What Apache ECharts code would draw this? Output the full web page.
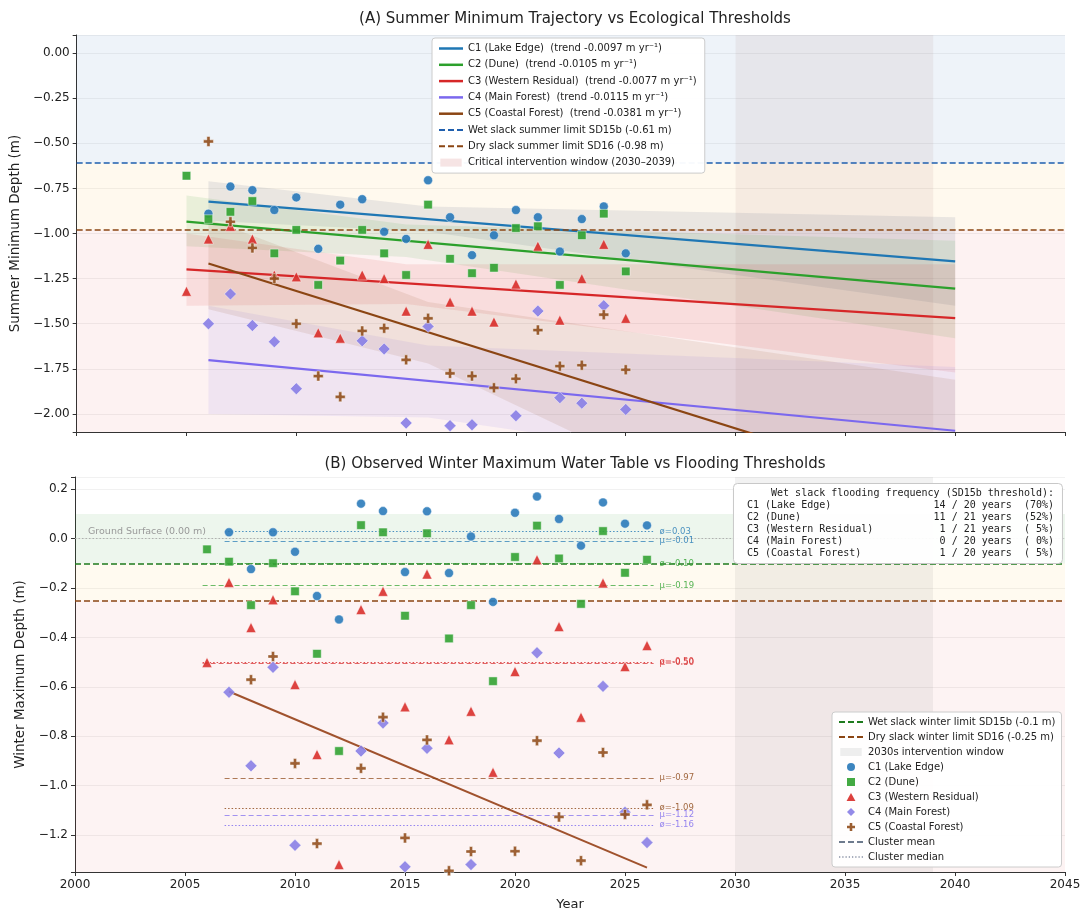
<!DOCTYPE html>
<html>
<head>
<meta charset="utf-8">
<script src="https://cdn.jsdelivr.net/npm/echarts@6/dist/echarts.min.js"></script>
<style>
html, body { margin: 0; padding: 0; background: #fff; }
#chart { width: 1085px; height: 914px; }
</style>
</head>
<body>
<div id="chart"></div>
<script>
"use strict";

// ---- cluster labels ----
var clusterNames = ['C1 (Lake Edge)', 'C2 (Dune)', 'C3 (Western Residual)', 'C4 (Main Forest)', 'C5 (Coastal Forest)'];
var trendSlopes = ['-0.0097', '-0.0105', '-0.0077', '-0.0115', '-0.0381'];

// ---- panel A: summer minimum depth (m) ----
var summerYearsC1 = [2006, 2007, 2008, 2009, 2010, 2011, 2012, 2013, 2014, 2015, 2016, 2017, 2018, 2019, 2020, 2021, 2022, 2023, 2024, 2025];
var summerC1 = [-0.89, -0.74, -0.76, -0.87, -0.80, -1.085, -0.84, -0.81, -0.99, -1.03, -0.705, -0.91, -1.12, -1.01, -0.87, -0.91, -1.10, -0.92, -0.85, -1.11];
var summerYearsC2 = [2005, 2006, 2007, 2008, 2009, 2010, 2011, 2012, 2013, 2014, 2015, 2016, 2017, 2018, 2019, 2020, 2021, 2022, 2023, 2024, 2025];
var summerC2 = [-0.68, -0.92, -0.88, -0.82, -1.11, -0.98, -1.285, -1.15, -0.98, -1.11, -1.23, -0.84, -1.14, -1.22, -1.19, -0.97, -0.96, -1.285, -1.01, -0.89, -1.21];
var summerYearsC3 = [2005, 2006, 2007, 2008, 2009, 2010, 2011, 2012, 2013, 2014, 2015, 2016, 2017, 2018, 2019, 2020, 2021, 2022, 2023, 2024, 2025];
var summerC3 = [-1.32, -1.03, -0.96, -1.03, -1.23, -1.24, -1.55, -1.58, -1.23, -1.25, -1.43, -1.06, -1.38, -1.43, -1.49, -1.28, -1.07, -1.48, -1.25, -1.06, -1.47];
var summerYearsC4 = [2006, 2007, 2008, 2009, 2010, 2013, 2014, 2015, 2016, 2017, 2018, 2020, 2021, 2022, 2023, 2024, 2025];
var summerC4 = [-1.50, -1.335, -1.51, -1.60, -1.86, -1.595, -1.64, -2.05, -1.515, -2.065, -2.06, -2.01, -1.43, -1.91, -1.94, -1.40, -1.975];
var summerYearsC5 = [2006, 2007, 2008, 2009, 2010, 2011, 2012, 2013, 2014, 2015, 2016, 2017, 2018, 2019, 2020, 2021, 2022, 2023, 2024, 2025];
var summerC5 = [-0.49, -0.935, -1.08, -1.25, -1.50, -1.79, -1.905, -1.54, -1.525, -1.70, -1.47, -1.775, -1.79, -1.855, -1.805, -1.535, -1.735, -1.73, -1.45, -1.755];

// fitted trends (start year/value -> 2040)
var trendStartYear = [2006, 2005, 2005, 2006, 2006];
var trendStartValue = [-0.823, -0.934, -1.199, -1.702, -1.166];
var trendEndYear = 2040;
var trendEndValue = [-1.155, -1.305, -1.469, -2.093, -2.461];

// confidence bands: [start, middle, 2040]
var bandYears = [[2006, 2016, 2040], [2005, 2015, 2040], [2005, 2015, 2040], [2006, 2016, 2040], [2006, 2016, 2040]];
var bandUpper = [[-0.71, -0.85, -0.91], [-0.79, -0.95, -1.04], [-1.00, -1.17, -1.17], [-1.40, -1.62, -1.74], [-0.92, -1.38, -1.81]];
var bandLower = [[-0.93, -0.99, -1.40], [-1.07, -1.13, -1.58], [-1.40, -1.39, -1.77], [-2.00, -2.02, -2.44], [-1.42, -1.72, -3.11]];

var summerWetLimit = -0.61;
var summerDryLimit = -0.98;
var windowYears = [2030, 2039];

// ---- panel B: winter maximum depth (m) ----
var winterYearsC1 = [2007, 2008, 2009, 2010, 2011, 2012, 2013, 2014, 2015, 2016, 2017, 2018, 2019, 2020, 2021, 2022, 2023, 2024, 2025, 2026];
var winterC1 = [0.026, -0.123, 0.026, -0.053, -0.232, -0.327, 0.142, 0.112, -0.135, 0.111, -0.139, 0.009, -0.256, 0.105, 0.171, 0.080, -0.028, 0.147, 0.061, 0.054];
var winterYearsC2 = [2006, 2007, 2008, 2009, 2010, 2011, 2012, 2013, 2014, 2015, 2016, 2017, 2018, 2019, 2020, 2021, 2022, 2023, 2024, 2025, 2026];
var winterC2 = [-0.043, -0.093, -0.269, -0.099, -0.213, -0.466, -0.860, 0.055, 0.026, -0.312, 0.022, -0.404, -0.269, -0.577, -0.074, 0.053, -0.080, -0.264, 0.031, -0.138, -0.085];
var winterYearsC3 = [2006, 2007, 2008, 2009, 2010, 2011, 2012, 2013, 2014, 2015, 2016, 2017, 2018, 2019, 2020, 2021, 2022, 2023, 2024, 2025, 2026];
var winterC3 = [-0.501, -0.177, -0.360, -0.247, -0.591, -0.874, -1.32, -0.287, -0.213, -0.681, -0.143, -0.814, -0.699, -0.946, -0.538, -0.085, -0.356, -0.723, -0.179, -0.518, -0.433];
var winterYearsC4 = [2007, 2008, 2009, 2010, 2013, 2014, 2015, 2016, 2018, 2021, 2022, 2024, 2025, 2026];
var winterC4 = [-0.622, -0.920, -0.521, -1.242, -0.860, -0.746, -1.329, -0.849, -1.320, -0.462, -0.868, -0.598, -1.108, -1.231];
var winterYearsC5 = [2008, 2009, 2010, 2011, 2013, 2014, 2015, 2016, 2017, 2018, 2020, 2021, 2022, 2023, 2024, 2025, 2026];
var winterC5 = [-0.571, -0.477, -0.910, -1.235, -0.930, -0.723, -1.212, -0.815, -1.345, -1.267, -1.266, -0.818, -1.127, -1.304, -0.866, -1.117, -1.078];

var winterMean = [-0.01, -0.19, -0.504, -1.12, -0.97];
var winterMedian = [0.03, -0.10, -0.50, -1.16, -1.09];
var statLineStart = [2006.8, 2005.8, 2005.8, 2006.8, 2006.8];
var statLineEnd = 2026.3;

var winterTrendYears = [2007, 2026];
var winterTrendC5 = [-0.619, -1.332];

var winterWetLimit = -0.1;
var winterDryLimit = -0.25;

var floodYears = [14, 11, 1, 0, 1];
var recordYears = [20, 21, 21, 20, 20];

// ---- styling ----
var FONT = 'DejaVu Sans';
var colors = ['#1f77b4', '#2ca02c', '#d62728', '#7b68ee', '#8b4513'];
var markerColors = ['#2b7bba', '#33a333', '#d9302c', '#8a80e6', '#93501f'];
var bandColors = ['rgba(90,110,140,0.13)', 'rgba(44,160,44,0.10)', 'rgba(214,39,40,0.10)', 'rgba(123,104,238,0.10)', 'rgba(139,69,19,0.10)'];
var PLUS = 'path://M3.4,0h3.2v3.4h3.4v3.2h-3.4v3.4h-3.2v-3.4h-3.4v-3.2h3.4z';
var symbols = ['circle', 'rect', 'triangle', 'diamond', PLUS];
var symbolSizes = [9, 8.5, 10, 12, 10];
var legendSymbols = ['circle', 'path://M0,0h10v10h-10z', 'path://M5,0L10,9L0,9Z', 'path://M5,0L10,5L5,10L0,5Z', PLUS];

var ICON_SOLID = 'path://M0,0h24v2.5h-24z';
var ICON_DASH = 'path://M0,0h6v2h-6zM9,0h6v2h-6zM18,0h6v2h-6z';
var ICON_DOT = 'path://M0,0h1.2v1.2h-1.2zM3,0h1.2v1.2h-1.2zM6,0h1.2v1.2h-1.2zM9,0h1.2v1.2h-1.2zM12,0h1.2v1.2h-1.2zM15,0h1.2v1.2h-1.2zM18,0h1.2v1.2h-1.2zM21,0h1.2v1.2h-1.2z';
var ICON_RECT = 'path://M0,0h24v9h-24z';

function zip(xs, ys) {
  return xs.map(function (x, i) { return [x, ys[i]]; });
}

function minusFmt(digits, step) {
  return function (v) {
    var k = v / step;
    if (Math.abs(k - Math.round(k)) > 1e-6) return '';
    var s = Math.abs(v).toFixed(digits);
    return (v < -1e-9 ? '\u2212' : '') + s;
  };
}

function bandSeries(i) {
  var ys = bandYears[i], hi = bandUpper[i], lo = bandLower[i];
  return {
    type: 'custom',
    xAxisIndex: 0, yAxisIndex: 0,
    silent: true, z: 1,
    data: [[ys[0], hi[0]]],
    renderItem: function (params, api) {
      var pts = [];
      for (var a = 0; a < ys.length; a++) pts.push(api.coord([ys[a], hi[a]]));
      for (var b = ys.length - 1; b >= 0; b--) pts.push(api.coord([ys[b], lo[b]]));
      var cs = params.coordSys;
      return {
        type: 'polygon',
        shape: { points: pts },
        style: { fill: bandColors[i] },
        clipPath: { type: 'rect', shape: { x: cs.x, y: cs.y, width: cs.width, height: cs.height } }
      };
    }
  };
}

var trendNames = clusterNames.map(function (n, i) {
  return n + '  (trend ' + trendSlopes[i] + ' m yr\u207B\u00B9)';
});
var wetSummerName = 'Wet slack summer limit SD15b (' + summerWetLimit + ' m)';
var drySummerName = 'Dry slack summer limit SD16 (' + summerDryLimit + ' m)';
var windowNameA = 'Critical intervention window (' + windowYears[0] + '\u2013' + windowYears[1] + ')';
var wetWinterName = 'Wet slack winter limit SD15b (' + winterWetLimit + ' m)';
var dryWinterName = 'Dry slack winter limit SD16 (' + winterDryLimit + ' m)';
var windowNameB = '2030s intervention window';

var summerSets = [
  zip(summerYearsC1, summerC1), zip(summerYearsC2, summerC2), zip(summerYearsC3, summerC3),
  zip(summerYearsC4, summerC4), zip(summerYearsC5, summerC5)
];
var winterSets = [
  zip(winterYearsC1, winterC1), zip(winterYearsC2, winterC2), zip(winterYearsC3, winterC3),
  zip(winterYearsC4, winterC4), zip(winterYearsC5, winterC5)
];

var series = [];

// panel A background zones
series.push({
  type: 'line', xAxisIndex: 0, yAxisIndex: 0, data: [], silent: true, z: 0,
  markArea: {
    silent: true,
    data: [
      [{ yAxis: 0.1, itemStyle: { color: 'rgba(31,90,180,0.075)' } }, { yAxis: summerWetLimit }],
      [{ yAxis: summerWetLimit, itemStyle: { color: 'rgba(255,170,20,0.07)' } }, { yAxis: summerDryLimit }],
      [{ yAxis: summerDryLimit, itemStyle: { color: 'rgba(214,39,40,0.06)' } }, { yAxis: -2.1 }]
    ]
  }
});
for (var b = 0; b < 5; b++) series.push(bandSeries(b));
series.push({
  name: windowNameA, type: 'line', xAxisIndex: 0, yAxisIndex: 0, data: [], silent: true, z: 2,
  color: '#f6e2e2',
  markArea: { silent: true, itemStyle: { color: 'rgba(150,100,105,0.09)' },
    data: [[{ xAxis: windowYears[0] }, { xAxis: windowYears[1] }]] }
});
[[wetSummerName, summerWetLimit, '#1f5fae'], [drySummerName, summerDryLimit, '#8b4513']].forEach(function (t) {
  series.push({
    name: t[0], type: 'line', xAxisIndex: 0, yAxisIndex: 0, data: [], z: 3, color: t[2],
    markLine: { silent: true, symbol: ['none', 'none'], label: { show: false },
      lineStyle: { color: t[2], type: [6, 3], width: 1.5 }, data: [{ yAxis: t[1] }] }
  });
});
for (var i = 0; i < 5; i++) {
  series.push({
    name: trendNames[i], type: 'line', xAxisIndex: 0, yAxisIndex: 0, z: 4,
    color: colors[i], showSymbol: false, symbol: 'none', clip: true,
    lineStyle: { width: 2.2, color: colors[i] },
    data: [[trendStartYear[i], trendStartValue[i]], [trendEndYear, trendEndValue[i]]]
  });
}
for (var s = 0; s < 5; s++) {
  series.push({
    name: clusterNames[s], type: 'scatter', xAxisIndex: 0, yAxisIndex: 0, z: 5, clip: true,
    symbol: symbols[s], symbolSize: symbolSizes[s],
    itemStyle: { color: markerColors[s], borderColor: '#ffffff', borderWidth: 0.5, opacity: 0.92 },
    data: summerSets[s]
  });
}

// panel B background zones + ground surface
series.push({
  type: 'line', xAxisIndex: 1, yAxisIndex: 1, data: [], silent: true, z: 0,
  markArea: {
    silent: true,
    data: [
      [{ yAxis: 0.1, itemStyle: { color: 'rgba(44,150,44,0.085)' } }, { yAxis: winterWetLimit }],
      [{ yAxis: winterWetLimit, itemStyle: { color: 'rgba(255,180,40,0.07)' } }, { yAxis: winterDryLimit }],
      [{ yAxis: winterDryLimit, itemStyle: { color: 'rgba(214,39,40,0.055)' } }, { yAxis: -1.35 }]
    ]
  },
  markLine: {
    silent: true, symbol: ['none', 'none'],
    lineStyle: { color: '#aaaaaa', type: [1.5, 2], width: 0.9 },
    label: { show: true, position: 'insideStartTop', formatter: 'Ground Surface (0.00 m)',
      color: '#999999', fontSize: 9.5, fontFamily: FONT, distance: [13, 2] },
    data: [{ yAxis: 0 }]
  }
});
series.push({
  name: windowNameB, type: 'line', xAxisIndex: 1, yAxisIndex: 1, data: [], silent: true, z: 1,
  color: '#eeeeee',
  markArea: { silent: true, itemStyle: { color: 'rgba(128,128,128,0.1)' },
    data: [[{ xAxis: windowYears[0] }, { xAxis: windowYears[1] }]] }
});
[[wetWinterName, winterWetLimit, '#1e7b1e'], [dryWinterName, winterDryLimit, '#8b4513']].forEach(function (t) {
  series.push({
    name: t[0], type: 'line', xAxisIndex: 1, yAxisIndex: 1, data: [], z: 3, color: t[2],
    markLine: { silent: true, symbol: ['none', 'none'], label: { show: false },
      lineStyle: { color: t[2], type: [6, 3], width: 1.5 }, data: [{ yAxis: t[1] }] }
  });
});
// cluster mean / median lines
for (var m = 0; m < 5; m++) {
  var mc = colors[m];
  series.push({
    type: 'line', xAxisIndex: 1, yAxisIndex: 1, data: [], z: 3, silent: true,
    markLine: {
      silent: true, symbol: ['none', 'none'],
      data: [
        [{ coord: [statLineStart[m], winterMean[m]],
           lineStyle: { color: mc, type: [5, 3], width: 1.2, opacity: 0.7 },
           label: { show: true, position: 'end', formatter: '\u03BC=' + winterMean[m].toFixed(2),
             color: mc, fontSize: 8.5, fontFamily: FONT, opacity: 0.8, distance: 6 } },
         { coord: [statLineEnd, winterMean[m]] }],
        [{ coord: [statLineStart[m], winterMedian[m]],
           lineStyle: { color: mc, type: [1.5, 2], width: 1.2, opacity: 0.8 },
           label: { show: true, position: 'end', formatter: '\u00F8=' + winterMedian[m].toFixed(2),
             color: mc, fontSize: 8.5, fontFamily: FONT, opacity: 0.8, distance: 6 } },
         { coord: [statLineEnd, winterMedian[m]] }]
      ]
    }
  });
}
series.push({ name: 'Cluster mean', type: 'line', xAxisIndex: 1, yAxisIndex: 1, data: [], color: '#6e7b8e' });
series.push({ name: 'Cluster median', type: 'line', xAxisIndex: 1, yAxisIndex: 1, data: [], color: '#8a93a6' });
series.push({
  type: 'line', xAxisIndex: 1, yAxisIndex: 1, z: 4, showSymbol: false, symbol: 'none', silent: true,
  lineStyle: { width: 2, color: '#a0522d' },
  data: zip(winterTrendYears, winterTrendC5)
});
for (var w = 0; w < 5; w++) {
  series.push({
    name: clusterNames[w], type: 'scatter', xAxisIndex: 1, yAxisIndex: 1, z: 5, clip: true,
    symbol: symbols[w], symbolSize: symbolSizes[w],
    itemStyle: { color: markerColors[w], borderColor: '#ffffff', borderWidth: 0.5, opacity: 0.9 },
    data: winterSets[w]
  });
}

// flooding frequency text box
var boxLines = ['    Wet slack flooding frequency (SD15b threshold):'];
for (var f = 0; f < 5; f++) {
  var pct = Math.round(100 * floodYears[f] / recordYears[f]);
  boxLines.push((clusterNames[f] + '                               ').slice(0, 31) +
    ('  ' + floodYears[f]).slice(-2) + ' / ' + recordYears[f] + ' years  (' + ('  ' + pct).slice(-2) + '%)');
}

var axisCommon = {
  axisLine: { show: true, onZero: false, lineStyle: { color: '#333333', width: 1 } },
  axisTick: { show: true, length: 4, lineStyle: { color: '#333333' } }
};

var option = {
  animation: false,
  backgroundColor: '#ffffff',
  textStyle: { fontFamily: FONT },
  title: [
    { text: '(A) Summer Minimum Trajectory vs Ecological Thresholds', left: 570, top: 7, textAlign: 'center',
      textStyle: { fontSize: 15, fontWeight: 'normal', color: '#222', fontFamily: FONT } },
    { text: '(B) Observed Winter Maximum Water Table vs Flooding Thresholds', left: 570, top: 452, textAlign: 'center',
      textStyle: { fontSize: 15, fontWeight: 'normal', color: '#222', fontFamily: FONT } },
    { text: boxLines.join('\n'), right: 22, top: 483, padding: [4, 9, 5, 14], z: 20,
      backgroundColor: 'rgba(255,255,255,0.94)', borderColor: '#c8c8c8', borderWidth: 1, borderRadius: 4,
      textStyle: { fontSize: 10, lineHeight: 12, fontWeight: 'normal', color: '#222', fontFamily: 'DejaVu Sans Mono' } }
  ],
  legend: [
    {
      orient: 'vertical', left: 432, top: 38, itemWidth: 24, itemHeight: 8, itemGap: 5.3, z: 20,
      padding: [5, 8, 5, 7], backgroundColor: 'rgba(255,255,255,0.96)', borderColor: '#cccccc',
      borderWidth: 1, borderRadius: 3, selectedMode: false,
      itemStyle: { borderWidth: 0 },
      textStyle: { fontSize: 10, lineHeight: 11, color: '#222', fontFamily: FONT },
      data: trendNames.map(function (n, i) {
        return { name: n, icon: ICON_SOLID, itemStyle: { color: colors[i] } };
      }).concat([
        { name: wetSummerName, icon: ICON_DASH, itemStyle: { color: '#1f5fae' } },
        { name: drySummerName, icon: ICON_DASH, itemStyle: { color: '#8b4513' } },
        { name: windowNameA, icon: ICON_RECT, itemStyle: { color: '#f6e4e4' } }
      ])
    },
    {
      orient: 'vertical', left: 832, top: 712, itemWidth: 24, itemHeight: 8, itemGap: 5, z: 20,
      padding: [5, 6, 5, 7], backgroundColor: 'rgba(255,255,255,0.94)', borderColor: '#cccccc',
      borderWidth: 1, borderRadius: 3, selectedMode: false,
      itemStyle: { borderWidth: 0 },
      textStyle: { fontSize: 10, lineHeight: 10, color: '#222', fontFamily: FONT },
      data: [
        { name: wetWinterName, icon: ICON_DASH, itemStyle: { color: '#1e7b1e' } },
        { name: dryWinterName, icon: ICON_DASH, itemStyle: { color: '#8b4513' } },
        { name: windowNameB, icon: ICON_RECT, itemStyle: { color: '#eeeeee' } }
      ].concat(clusterNames.map(function (n, i) {
        return { name: n, icon: legendSymbols[i], itemStyle: { color: markerColors[i] } };
      })).concat([
        { name: 'Cluster mean', icon: ICON_DASH, itemStyle: { color: '#6e7b8e' } },
        { name: 'Cluster median', icon: ICON_DOT, itemStyle: { color: '#8a93a6' } }
      ])
    }
  ],
  grid: [
    { left: 75, right: 20, top: 35, height: 397 },
    { left: 75, right: 20, top: 477, height: 395 }
  ],
  xAxis: [
    Object.assign({ gridIndex: 0, type: 'value', min: 2000, max: 2045, interval: 5,
      axisLabel: { show: false }, splitLine: { show: false } }, axisCommon),
    Object.assign({ gridIndex: 1, type: 'value', min: 2000, max: 2045, interval: 5,
      name: 'Year', nameLocation: 'middle', nameGap: 26,
      nameTextStyle: { fontSize: 13, color: '#222', fontFamily: FONT },
      axisLabel: { fontSize: 12, color: '#222', margin: 7, formatter: function (v) { return String(v); } },
      splitLine: { show: false } }, axisCommon)
  ],
  yAxis: [
    Object.assign({ gridIndex: 0, type: 'value', min: -2.1, max: 0.1, minInterval: 0.25, maxInterval: 0.25,
      name: 'Summer Minimum Depth (m)', nameLocation: 'middle', nameGap: 47,
      nameTextStyle: { fontSize: 13.5, color: '#222', fontFamily: FONT },
      axisLabel: { fontSize: 12, color: '#222', margin: 7, formatter: minusFmt(2, 0.25) },
      splitLine: { show: true, lineStyle: { color: 'rgba(0,0,0,0.07)', width: 0.8 } } }, axisCommon),
    Object.assign({ gridIndex: 1, type: 'value', min: -1.35, max: 0.25, minInterval: 0.2, maxInterval: 0.2,
      name: 'Winter Maximum Depth (m)', nameLocation: 'middle', nameGap: 44,
      nameTextStyle: { fontSize: 13.5, color: '#222', fontFamily: FONT },
      axisLabel: { fontSize: 12, color: '#222', margin: 7, formatter: minusFmt(1, 0.2) },
      splitLine: { show: true, lineStyle: { color: 'rgba(0,0,0,0.07)', width: 0.8 } } }, axisCommon)
  ],
  series: series
};

var chart = echarts.init(document.getElementById('chart'), null, { renderer: 'canvas' });
chart.setOption(option);
</script>
</body>
</html>
